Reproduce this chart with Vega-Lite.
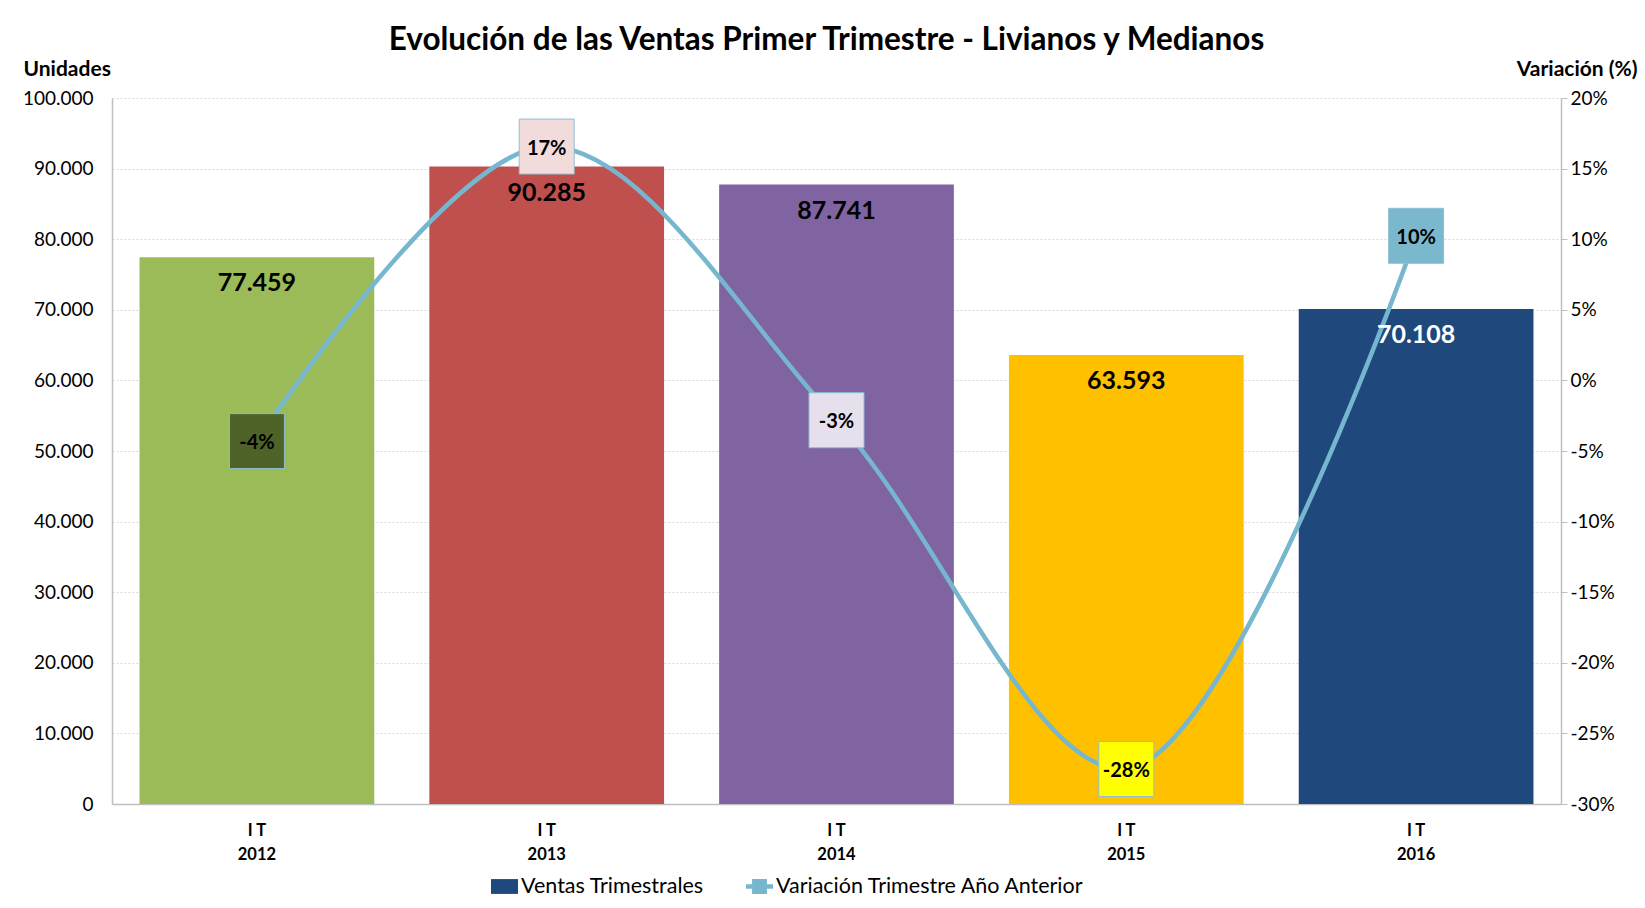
{
  "$schema": "https://vega.github.io/schema/vega-lite/v6.json",
  "autosize": "none",
  "width": 1449,
  "height": 706,
  "padding": {"left": 112, "top": 98, "right": 84, "bottom": 104},
  "background": "#FFFFFF",
  "title": {
    "text": "Evolución de las Ventas Primer Trimestre - Livianos y Medianos",
    "fontSize": 31.5,
    "fontWeight": "bold",
    "font": "Lato",
    "color": "#000000",
    "anchor": "middle",
    "dx": -10,
    "dy": 2
  },
  "config": {
    "font": "Lato",
    "view": {"stroke": null},
    "locale": {
      "number": {"decimal": ",", "thousands": ".", "grouping": [3], "currency": ["", " €"], "minus": "-"}
    }
  },
  "datasets": {
    "ventas": [
      {"year": "2012", "unidades": 77459, "variacion": -0.043},
      {"year": "2013", "unidades": 90285, "variacion": 0.1656},
      {"year": "2014", "unidades": 87741, "variacion": -0.0282},
      {"year": "2015", "unidades": 63593, "variacion": -0.2752},
      {"year": "2016", "unidades": 70108, "variacion": 0.1024}
    ],
    "series": [
      {"serie": "Ventas Trimestrales"},
      {"serie": "Variación Trimestre Año Anterior"}
    ]
  },
  "layer": [
    {
      "data": {"name": "ventas"},
      "encoding": {
        "x": {
          "field": "year",
          "type": "nominal",
          "sort": null,
          "scale": {"paddingInner": 0.19, "paddingOuter": 0.095},
          "axis": {
            "title": null,
            "labelAngle": 0,
            "labelExpr": "['I T', datum.label]",
            "labelFont": "Lato",
            "labelFontSize": 16.5,
            "labelFontWeight": "bold",
            "labelColor": "#000000",
            "labelLineHeight": 24,
            "labelPadding": 18,
            "ticks": false,
            "domainColor": "#BFBFBF",
            "domainWidth": 1.5
          }
        }
      },
      "layer": [
        {
          "mark": {"type": "bar"},
          "encoding": {
            "y": {
              "field": "unidades",
              "type": "quantitative",
              "scale": {"domain": [0, 100000], "nice": false},
              "axis": {
                "orient": "left",
                "values": [0, 10000, 20000, 30000, 40000, 50000, 60000, 70000, 80000, 90000, 100000],
                "format": ",d",
                "title": "Unidades",
                "titleAngle": 0,
                "titleAlign": "left",
                "titleBaseline": "middle",
                "titleX": -89,
                "titleY": -29,
                "titleFont": "Lato",
                "titleFontSize": 21,
                "titleFontWeight": "bold",
                "titleColor": "#000000",
                "labelFont": "Lato",
                "labelFontSize": 19,
                "labelColor": "#000000",
                "labelPadding": 19,
                "ticks": false,
                "tickSize": 0,
                "domainColor": "#BFBFBF",
                "domainWidth": 1.5,
                "grid": true,
                "gridColor": "#D9D9D9",
                "gridDash": [2, 2],
                "gridWidth": 1
              }
            },
            "color": {
              "field": "year",
              "type": "nominal",
              "scale": {
                "domain": ["2012", "2013", "2014", "2015", "2016"],
                "range": ["#9BBB59", "#C0504D", "#8064A2", "#FFC000", "#1F497D"]
              },
              "legend": null
            }
          }
        },
        {
          "mark": {"type": "line", "interpolate": "catmull-rom", "stroke": "#77B6CF", "strokeWidth": 4.5},
          "encoding": {
            "y": {
              "field": "variacion",
              "type": "quantitative",
              "scale": {"domain": [-0.3, 0.2], "nice": false},
              "axis": {
                "orient": "right",
                "values": [-0.3, -0.25, -0.2, -0.15, -0.1, -0.05, 0, 0.05, 0.1, 0.15, 0.2],
                "format": ".0%",
                "title": "Variación (%)",
                "titleAngle": 0,
                "titleAlign": "right",
                "titleBaseline": "middle",
                "titleX": 76,
                "titleY": -29,
                "titleFont": "Lato",
                "titleFontSize": 21,
                "titleFontWeight": "bold",
                "titleColor": "#000000",
                "labelFont": "Lato",
                "labelFontSize": 19,
                "labelColor": "#000000",
                "labelPadding": 3,
                "ticks": true,
                "tickSize": 6,
                "tickColor": "#BFBFBF",
                "domainColor": "#BFBFBF",
                "domainWidth": 1.5,
                "grid": false
              }
            }
          }
        },
        {
          "mark": {"type": "point", "shape": "square", "size": 3025, "filled": true, "opacity": 1, "stroke": "#8DC0D3", "strokeWidth": 1},
          "encoding": {
            "y": {"field": "variacion", "type": "quantitative", "scale": {"domain": [-0.3, 0.2], "nice": false}, "axis": null},
            "fill": {
              "field": "year",
              "type": "nominal",
              "scale": {
                "domain": ["2012", "2013", "2014", "2015", "2016"],
                "range": ["#4F6228", "#F2DCDB", "#E6E0EC", "#FFFF00", "#7BB8CE"]
              },
              "legend": null
            }
          }
        },
        {
          "mark": {"type": "text", "dy": 26, "baseline": "middle", "align": "center", "fontSize": 25, "fontWeight": "bold", "font": "Lato"},
          "encoding": {
            "y": {"field": "unidades", "type": "quantitative", "scale": {"domain": [0, 100000], "nice": false}, "axis": null},
            "text": {"field": "unidades", "type": "quantitative", "format": ",d"},
            "color": {
              "condition": {"test": "datum.year == '2016'", "value": "#FFFFFF"},
              "value": "#000000"
            }
          }
        },
        {
          "mark": {"type": "text", "dy": 2, "baseline": "middle", "align": "center", "fontSize": 20, "fontWeight": "bold", "font": "Lato", "color": "#000000"},
          "encoding": {
            "y": {"field": "variacion", "type": "quantitative", "scale": {"domain": [-0.3, 0.2], "nice": false}, "axis": null},
            "text": {"field": "variacion", "type": "quantitative", "format": ".0%"}
          }
        }
      ],
      "resolve": {"scale": {"y": "independent"}}
    },
    {
      "data": {"name": "series"},
      "mark": {"type": "point", "filled": true, "opacity": 0},
      "encoding": {
        "color": {
          "field": "serie",
          "type": "nominal",
          "sort": null,
          "scale": {
            "domain": ["Ventas Trimestrales", "Variación Trimestre Año Anterior"],
            "range": ["#1F497D", "#77B6CF"]
          },
          "legend": {
            "title": null,
            "orient": "none",
            "direction": "horizontal",
            "legendX": 379,
            "legendY": 775,
            "labelFont": "Lato",
            "labelFontSize": 21.5,
            "labelColor": "#000000",
            "labelLimit": 0,
            "labelOffset": 3,
            "columnPadding": 42,
            "symbolSize": 729,
            "symbolStrokeWidth": 0,
            "symbolOpacity": 1,
            "encode": {
              "symbols": {
                "update": {
                  "shape": {"signal": "datum.value == 'Ventas Trimestrales' ? 'M-1,-0.55H1V0.55H-1Z' : 'M-1,-0.17H-0.55V-0.55H0.55V-0.17H1V0.17H0.55V0.55H-0.55V0.17H-1Z'"},
                  "fill": {"signal": "datum.value == 'Ventas Trimestrales' ? '#1F497D' : '#77B6CF'"},
                  "opacity": {"value": 1},
                  "fillOpacity": {"value": 1}
                }
              }
            }
          }
        }
      }
    }
  ],
  "resolve": {
    "scale": {"color": "independent"}
  }
}
